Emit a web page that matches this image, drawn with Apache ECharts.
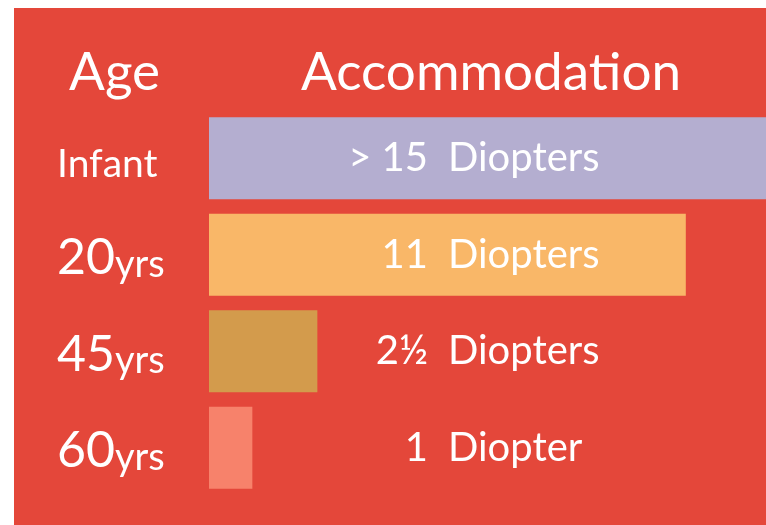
<!DOCTYPE html>
<html>
<head>
<meta charset="utf-8">
<script src="https://cdn.jsdelivr.net/npm/echarts@6/dist/echarts.min.js"></script>
<style>
  html, body { margin: 0; padding: 0; background: #ffffff; }
  #wrap { position: relative; width: 766px; height: 525px; background: #ffffff; overflow: hidden; }
  #slide { position: absolute; left: 14px; top: 8px; right: 0; bottom: 0; background: #e4473a; }
  #chart { position: absolute; left: 0; top: 0; width: 766px; height: 525px; }
</style>
</head>
<body>
<div id="wrap">
  <div id="slide"></div>
  <div id="chart"></div>
</div>
<script>
// ---- data ----
const ageGroups = ['Infant', '20yrs', '45yrs', '60yrs'];
const ageNumbers = ['', '20', '45', '60'];
const diopters = [15, 11, 2.5, 1];          // Infant is "> 15"
const diopterText = ['> 15', '11', '2½', '1'];
const unitText = ['Diopters', 'Diopters', 'Diopters', 'Diopter'];
const barColors = ['#b4aed0', '#f9b768', '#d39b4c', '#f7826b'];
const headerLeft = 'Age';
const headerRight = 'Accommodation';

const FONT = 'Lato, "Open Sans", sans-serif';
const white = '#ffffff';

const chart = echarts.init(document.getElementById('chart'), null, { renderer: 'canvas' });

chart.setOption({
  backgroundColor: 'transparent',
  animation: false,
  title: [
    { text: headerLeft, left: 64, top: 41,
      textStyle: { fontFamily: FONT, fontSize: 53, fontWeight: 'normal', color: white } },
    { text: headerRight, left: 296, top: 41,
      textStyle: { fontFamily: FONT, fontSize: 53, fontWeight: 'normal', color: white } }
  ],
  grid: { left: 209, right: 0, top: 110, height: 386, containLabel: false },
  xAxis: { type: 'value', min: 0, max: 12.85, show: false },
  yAxis: {
    type: 'category', data: ageGroups, inverse: true,
    axisLine: { show: false }, axisTick: { show: false }, splitLine: { show: false },
    axisLabel: {
      align: 'left', margin: 152, color: white, fontFamily: FONT,
      padding: [7, 0, 0, 0],
      formatter: function (v, i) {
        if (ageNumbers[i]) return '{n|' + ageNumbers[i] + '}{u|' + v.replace(ageNumbers[i], '') + '}';
        return '{w|' + v + '}';
      },
      rich: {
        w: { fontFamily: FONT, fontSize: 39, color: white, padding: [6, 0, 0, 0] },
        n: { fontFamily: FONT, fontSize: 50, color: white, verticalAlign: 'bottom', lineHeight: 50 },
        u: { fontFamily: FONT, fontSize: 38, color: white, verticalAlign: 'bottom', lineHeight: 42 }
      }
    }
  },
  series: [
    {
      type: 'bar',
      barCategoryGap: '15%',
      barGap: '-100%',
      clip: true,
      data: diopters.map((v, i) => ({ value: v, itemStyle: { color: barColors[i] } })),
      label: {
        show: true,
        position: [219, '50%'],
        verticalAlign: 'middle',
        align: 'right',
        fontFamily: FONT, fontSize: 40, color: white,
        formatter: function (p) { return diopterText[p.dataIndex]; }
      }
    },
    {
      type: 'bar',
      barCategoryGap: '15%',
      barGap: '-100%',
      clip: true,
      silent: true,
      z: 3,
      data: diopters,
      itemStyle: { color: 'rgba(0,0,0,0)' },
      label: {
        show: true,
        position: [239, '50%'],
        verticalAlign: 'middle',
        align: 'left',
        fontFamily: FONT, fontSize: 40, color: white,
        formatter: function (p) { return unitText[p.dataIndex]; }
      }
    }
  ]
});
</script>
</body>
</html>
